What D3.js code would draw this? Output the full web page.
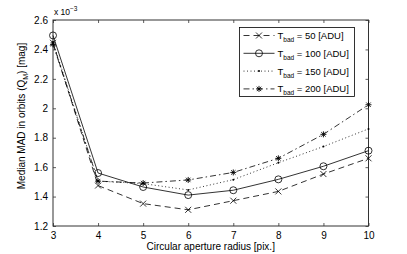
<!DOCTYPE html>
<html>
<head>
<meta charset="utf-8">
<script src="https://cdn.jsdelivr.net/npm/d3@7"></script>
<style>
  body { margin: 0; background: #fff; }
  text { font-family: "Liberation Sans", Arial, sans-serif; fill: #000; }
</style>
</head>
<body>
<svg id="chart"></svg>
<script>
// aperture radius [pix.]
const radii = [3, 4, 5, 6, 7, 8, 9, 10];

// median MAD values, x 10^-3 mag
const tbad50 = [2.445, 1.475, 1.352, 1.31, 1.372, 1.435, 1.553, 1.66];
const tbad100 = [2.495, 1.56, 1.465, 1.41, 1.443, 1.517, 1.606, 1.712];
const tbad150 = [2.45, 1.505, 1.488, 1.445, 1.515, 1.63, 1.74, 1.86];
const tbad200 = [2.435, 1.505, 1.492, 1.513, 1.564, 1.66, 1.823, 2.024];

const seriesNames = ['50', '100', '150', '200'];
const yTicks = [1.2, 1.4, 1.6, 1.8, 2, 2.2, 2.4, 2.6];

const series = [
  { name: seriesNames[0], values: tbad50, dash: '6,4', marker: 'x' },
  { name: seriesNames[1], values: tbad100, dash: null, marker: 'o' },
  { name: seriesNames[2], values: tbad150, dash: '1,2.5', marker: '.' },
  { name: seriesNames[3], values: tbad200, dash: '6,3,1.5,3', marker: '*' }
];

const width = 407, height = 254;
const margin = { top: 20, right: 38.5, bottom: 28, left: 53 };
const innerW = width - margin.left - margin.right;
const innerH = height - margin.top - margin.bottom;

const svg = d3.select('#chart')
  .attr('width', width)
  .attr('height', height);

const g = svg.append('g')
  .attr('transform', `translate(${margin.left},${margin.top})`);

const x = d3.scaleLinear().domain([3, 10]).range([0, innerW]);
const y = d3.scaleLinear().domain([1.2, 2.6]).range([innerH, 0]);

// axes with inward ticks, MATLAB style
const axisColor = '#333';
const tickLen = 3;

function styleAxis(sel) {
  sel.select('.domain').remove();
  sel.selectAll('.tick line').attr('stroke', axisColor).attr('stroke-width', 0.8);
  sel.selectAll('.tick text')
    .style('font-size', '10px')
    .attr('fill', '#000');
}

g.append('g')
  .attr('transform', `translate(0,${innerH})`)
  .call(d3.axisBottom(x).tickValues(radii).tickSize(-tickLen).tickPadding(6).tickFormat(d3.format('d')))
  .call(styleAxis);

g.append('g')
  .call(d3.axisTop(x).tickValues(radii).tickSize(-tickLen).tickFormat(''))
  .call(styleAxis);

g.append('g')
  .call(d3.axisLeft(y).tickValues(yTicks).tickSize(-tickLen).tickPadding(5).tickFormat(d => d3.format('')(+d.toFixed(1))))
  .call(styleAxis);

g.append('g')
  .attr('transform', `translate(${innerW},0)`)
  .call(d3.axisRight(y).tickValues(yTicks).tickSize(-tickLen).tickFormat(''))
  .call(styleAxis);

// plot box
g.append('rect')
  .attr('width', innerW)
  .attr('height', innerH)
  .attr('fill', 'none')
  .attr('stroke', axisColor)
  .attr('stroke-width', 1);

// exponent label
const expo = svg.append('text')
  .attr('x', margin.left + 1)
  .attr('y', margin.top - 5)
  .style('font-size', '8.5px');
expo.append('tspan').text('x 10');
expo.append('tspan').attr('dy', -4).style('font-size', '6.5px').text('\u22123');

// axis titles
svg.append('text')
  .attr('x', margin.left + innerW / 2)
  .attr('y', height - 4)
  .attr('text-anchor', 'middle')
  .style('font-size', '10px')
  .text('Circular aperture radius [pix.]');

const yl = svg.append('text')
  .attr('transform', `translate(25,116) rotate(-90)`)
  .attr('text-anchor', 'middle')
  .style('font-size', '10px');
yl.append('tspan').text('Median MAD in orbits (Q');
yl.append('tspan').attr('dy', 3).style('font-size', '7px').text('M');
yl.append('tspan').attr('dy', -3).text(') [mag]');

// markers
function drawMarker(sel, type) {
  if (type === 'x') {
    sel.append('path').attr('d', 'M-3,-3L3,3M-3,3L3,-3')
      .attr('stroke', '#000').attr('stroke-width', 0.8).attr('fill', 'none');
  } else if (type === 'o') {
    sel.append('circle').attr('r', 3.5)
      .attr('stroke', '#000').attr('stroke-width', 0.8).attr('fill', 'none');
  } else if (type === '.') {
    sel.append('circle').attr('r', 1).attr('fill', '#000');
  } else if (type === '*') {
    sel.append('path').attr('d', 'M-3,0L3,0M0,-3L0,3M-2.2,-2.2L2.2,2.2M-2.2,2.2L2.2,-2.2')
      .attr('stroke', '#000').attr('stroke-width', 0.9).attr('fill', 'none');
  }
}

const line = d3.line()
  .x((d, i) => x(radii[i]))
  .y(d => y(d));

series.forEach(s => {
  g.append('path')
    .datum(s.values)
    .attr('d', line)
    .attr('fill', 'none')
    .attr('stroke', '#000')
    .attr('stroke-width', 0.8)
    .attr('stroke-dasharray', s.dash);

  g.selectAll(null)
    .data(s.values)
    .enter()
    .append('g')
    .attr('transform', (d, i) => `translate(${x(radii[i])},${y(d)})`)
    .each(function () { drawMarker(d3.select(this), s.marker); });
});

// legend
const legend = svg.append('g').attr('transform', 'translate(239.5,27.5)');
legend.append('rect')
  .attr('width', 115)
  .attr('height', 69)
  .attr('fill', '#fff')
  .attr('stroke', '#000')
  .attr('stroke-width', 0.8);

series.forEach((s, i) => {
  const row = legend.append('g').attr('transform', `translate(0,${8 + i * 17.8})`);
  row.append('line')
    .attr('x1', 4).attr('x2', 35)
    .attr('stroke', '#000')
    .attr('stroke-width', 0.8)
    .attr('stroke-dasharray', s.dash);
  const m = row.append('g').attr('transform', 'translate(19.5,0)');
  drawMarker(m, s.marker);
  const t = row.append('text')
    .attr('x', 38)
    .attr('y', 3.5)
    .style('font-size', '9.5px');
  t.append('tspan').text('T');
  t.append('tspan').attr('dy', 3).style('font-size', '6.5px').text('bad');
  t.append('tspan').attr('dy', -3).text(` = ${s.name} [ADU]`);
});
</script>
</body>
</html>
